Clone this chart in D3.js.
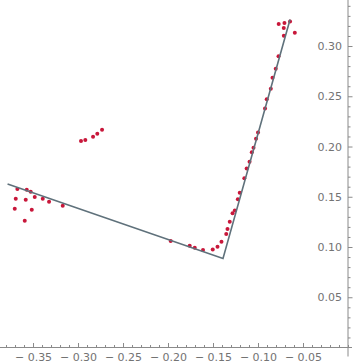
<!DOCTYPE html>
<html>
<head>
<meta charset="utf-8">
<script src="https://cdn.jsdelivr.net/npm/d3@7"></script>
<style>
  html, body { margin: 0; padding: 0; background: #fff; }
  svg { display: block; }
  .axis text { font-family: "DejaVu Sans", sans-serif; font-size: 11px; fill: #737373; }
  .axis line { stroke: #8a8a8a; }
</style>
</head>
<body>
<svg id="chart" width="360" height="363"></svg>
<script>
// scatter points (x, y)
const pointsX = [
  -0.3674, -0.3570, -0.3526, -0.3692, -0.3581, -0.3481, -0.3392, -0.3322, -0.3170, -0.3703, -0.3514, -0.3592,
  -0.2967, -0.2919, -0.2833, -0.2786, -0.2733,
  -0.1970, -0.1759, -0.1703, -0.1611, -0.1503, -0.1450, -0.1406, -0.1353, -0.1339, -0.1314, -0.1283, -0.1258, -0.1224, -0.1203,
  -0.1152, -0.1126, -0.1094, -0.1069, -0.1050, -0.1022, -0.1000, -0.0922, -0.0903, -0.0858, -0.0839, -0.0803, -0.0772,
  -0.0713, -0.0591, -0.0714, -0.0770, -0.0706, -0.0644
]
const pointsY = [
  0.1577, 0.1570, 0.1550, 0.1481, 0.1471, 0.1498, 0.1481, 0.1451, 0.1411, 0.1381, 0.1371, 0.1262,
  0.2055, 0.2065, 0.2098, 0.2127, 0.2167,
  0.1060, 0.1013, 0.0993, 0.0970, 0.0975, 0.1003, 0.1053, 0.1129, 0.1179, 0.1252, 0.1336, 0.1363, 0.1475, 0.1540,
  0.1684, 0.1781, 0.1849, 0.1942, 0.1988, 0.2078, 0.2139, 0.2378, 0.2470, 0.2575, 0.2684, 0.2773, 0.2899,
  0.3102, 0.3132, 0.3179, 0.3219, 0.3229, 0.3244
]
// fitted polyline (three vertices)
const lineX = [-0.3783, -0.1389, -0.0644]
const lineY = [0.1627, 0.0886, 0.3264]

// tick values
const xMajor = [-0.35, -0.30, -0.25, -0.20, -0.15, -0.10, -0.05]
const xMinor = d3.range(-38, 1).map(i => i / 100)
const yMajor = [0.05, 0.10, 0.15, 0.20, 0.25, 0.30]
const yMinor = d3.range(1, 35).map(i => i / 100)

const svg = d3.select('#chart')

// plot spans the whole picture; origin sits at the lower right
const x = d3.scaleLinear().domain([-0.3867, 0]).range([0, 348])
const y = d3.scaleLinear().domain([0, 0.3458]).range([347.5, 0])

const fmt = v => d3.format('.2f')(v).replace('\u2212', '\u2212 ')

// x axis: ticks point up, labels below
const xAxisG = svg.append('g').attr('class', 'axis').attr('transform', 'translate(0,' + y(0) + ')')
xAxisG.append('g')
  .call(d3.axisBottom(x).tickValues(xMinor.filter(v => !xMajor.some(m => Math.abs(m - v) < 1e-9)))
    .tickSizeInner(-2.5).tickSizeOuter(0).tickFormat(''))
  .call(g => g.select('.domain').remove())
xAxisG.append('g')
  .call(d3.axisBottom(x).tickValues(xMajor).tickSizeInner(-4.5).tickSizeOuter(0).tickPadding(6).tickFormat(fmt))
  .call(g => g.select('.domain').remove())
xAxisG.append('line')
  .attr('x1', 0).attr('x2', x(0) + 4).attr('y1', 0).attr('y2', 0)
  .attr('stroke', '#8a8a8a')

// y axis: ticks point right, labels left
const yAxisG = svg.append('g').attr('class', 'axis').attr('transform', 'translate(' + x(0) + ',0)')
yAxisG.append('g')
  .call(d3.axisLeft(y).tickValues(yMinor.filter(v => !yMajor.some(m => Math.abs(m - v) < 1e-9)))
    .tickSizeInner(-2.5).tickSizeOuter(0).tickFormat(''))
  .call(g => g.select('.domain').remove())
yAxisG.append('g')
  .call(d3.axisLeft(y).tickValues(yMajor).tickSizeInner(-4.5).tickSizeOuter(0).tickPadding(6).tickFormat(fmt))
  .call(g => g.select('.domain').remove())
yAxisG.append('line')
  .attr('x1', 0).attr('x2', 0).attr('y1', 0).attr('y2', y(0) + 9)
  .attr('stroke', '#8a8a8a')

// points
const pts = pointsX.map((v, i) => [v, pointsY[i]])
svg.append('g').selectAll('circle')
  .data(pts)
  .join('circle')
  .attr('cx', d => x(d[0]))
  .attr('cy', d => y(d[1]))
  .attr('r', 2)
  .attr('fill', '#c8173a')

// line on top of the points
const linePts = lineX.map((v, i) => [v, lineY[i]])
svg.append('path')
  .datum(linePts)
  .attr('d', d3.line().x(d => x(d[0])).y(d => y(d[1])))
  .attr('fill', 'none')
  .attr('stroke', '#5f717b')
  .attr('stroke-width', 1.6)
</script>
</body>
</html>
